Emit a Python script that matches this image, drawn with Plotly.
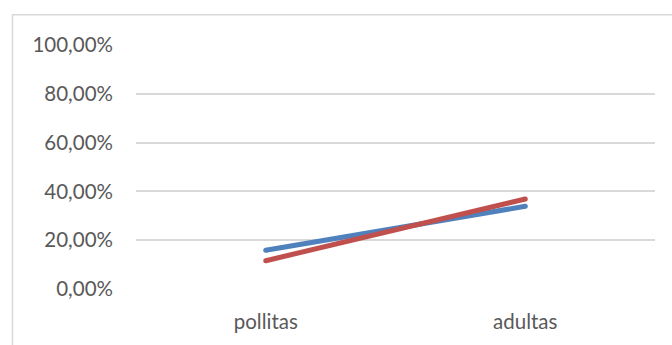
import plotly.graph_objects as go

categories = ["pollitas", "adultas"]
serie_azul = [0.159, 0.339]
serie_roja = [0.116, 0.369]
y_ticks = [0, 0.2, 0.4, 0.6, 0.8, 1.0]
y_tick_labels = ["0,00%", "20,00%", "40,00%", "60,00%", "80,00%", "100,00%"]

W, H = 672, 345
L, R, T, B = 136, 17, 45, 53

fig = go.Figure()
for vals, color in [(serie_azul, "#4F81BD"), (serie_roja, "#C0504D")]:
    fig.add_trace(go.Scatter(
        x=categories, y=vals, mode="lines+markers",
        line=dict(color=color, width=5),
        marker=dict(color=color, size=5, line=dict(width=0)),
        showlegend=False, hoverinfo="skip",
    ))

# outer chart frame (runs off the right and bottom edges)
pw, ph = W - L - R, H - T - B
fig.add_shape(
    type="rect", xref="paper", yref="paper",
    x0=(12.5 - L) / pw, x1=(W + 10 - L) / pw,
    y0=-(H + 10 - (H - B)) / ph, y1=((H - B) - 14.5) / ph,
    line=dict(color="#d9d9d9", width=1.5), layer="below",
)

fig.update_layout(
    width=W, height=H,
    margin=dict(l=L, r=R, t=T, b=B),
    paper_bgcolor="white", plot_bgcolor="white",
    font=dict(family="Lato", color="#595959", size=20),
    xaxis=dict(
        showgrid=False, zeroline=False, showline=False, ticks="",
        tickfont=dict(size=20.5), range=[-0.5, 1.5], ticklabelstandoff=18,
    ),
    yaxis=dict(
        range=[0, 1], tickvals=y_ticks, ticktext=y_tick_labels,
        showgrid=True, gridcolor="#d9d9d9", gridwidth=1.8,
        zeroline=False, showline=False, ticks="", ticklabelstandoff=22,
        tickfont=dict(size=20.5),
    ),
)

fig.write_html("out.html")
